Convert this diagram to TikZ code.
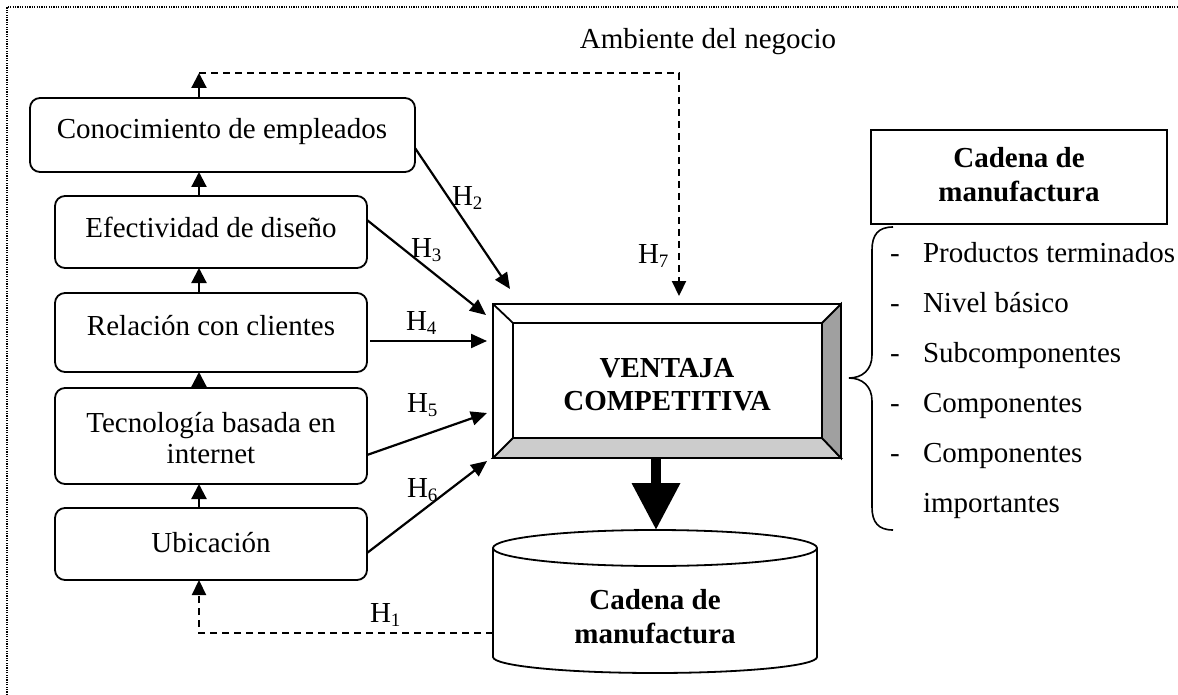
\documentclass[tikz,border=0pt]{standalone}
\usepackage{fontspec}
\setmainfont{Liberation Serif}
\usetikzlibrary{arrows.meta}
\definecolor{bevelB}{RGB}{204,204,204}
\definecolor{bevelR}{RGB}{160,160,160}
\newcommand\hsub[1]{H\raisebox{-4pt}{\fontsize{19}{19}\selectfont #1}}
\begin{document}
\begin{tikzpicture}[x=1pt,y=-1pt,
  every node/.style={inner sep=0pt, outer sep=0pt},
  txt/.style={font=\fontsize{29}{34}\selectfont, anchor=base},
  btxt/.style={font=\fontsize{29}{34}\selectfont\bfseries, anchor=base},
  htxt/.style={font=\fontsize{29}{34}\selectfont, anchor=base west},
  ltxt/.style={font=\fontsize{29}{34}\selectfont, anchor=base west},
  lbox/.style={draw, line width=1.8pt, rounded corners=10pt, fill=white},
  arr/.style={line width=2.2pt, -{Triangle[length=16pt,width=14pt]}},
  uparr/.style={line width=2.2pt, -{Triangle[length=15pt,width=15pt]}},
  dasharr/.style={line width=2.2pt, dash pattern=on 7pt off 5pt, -{Triangle[length=15pt,width=14pt]}},
  thin/.style={line width=1.8pt}
]
\useasboundingbox (0,0) rectangle (1178,695);
\fill[white] (0,0) rectangle (1178,695);
% dotted frame
\draw[line width=1.5pt, dash pattern=on 1.2pt off 1.2pt] (7,695) -- (7,7) -- (1178,7);

% title
\node[txt] (amb) at (708,49) {Ambiente del negocio};

% left boxes
\node[lbox, minimum width=385pt, minimum height=74pt] (k) at (222.5,135) {};
\node[txt] (kt) at (222,139) {Conocimiento de empleados};
\node[lbox, minimum width=312pt, minimum height=72pt] (e) at (211,232) {};
\node[txt] (et) at (211,237) {Efectividad de diseño};
\node[lbox, minimum width=312pt, minimum height=79pt] (r) at (211,332.5) {};
\node[txt] (rt) at (211,335) {Relación con clientes};
\node[lbox, minimum width=312pt, minimum height=96pt] (t) at (211,436) {};
\node[txt] (tt1) at (211,432) {Tecnología basada en};
\node[txt] (tt2) at (211,463) {internet};
\node[lbox, minimum width=312pt, minimum height=72pt] (u) at (211,544) {};
\node[txt] (ut) at (211,552) {Ubicación};

% helper coordinates
\coordinate (ax) at (199,0);
\coordinate (tl) at (199,73);
\coordinate (tr) at (679,73);
\coordinate (h7tip) at (679,296);
\coordinate (bl) at (199,633);
\coordinate (cylw) at (493,548);
\coordinate (ctop) at (656,530);
\coordinate (t2) at (510,289);
\coordinate (t3) at (486,315);
\coordinate (t4) at (487,341);
\coordinate (t5) at (487,413);
\coordinate (t6) at (487,461);

% stacked up arrows
\draw[uparr] (e.north -| ax) -- (k.south -| ax);
\draw[uparr] (r.north -| ax) -- (e.south -| ax);
\draw[uparr] (t.north -| ax) -- (r.south -| ax);
\draw[uparr] (u.north -| ax) -- (t.south -| ax);
\draw[uparr] (k.north -| ax) -- (tl);

% H7 dashed
\draw[dasharr] (tl) -- (tr) -- (h7tip);
\node[htxt] (h7) at (638,263) {\hsub{7}};

% bevel box
\node[minimum width=348pt, minimum height=154pt] (v) at (667,381) {};
\node[minimum width=309pt, minimum height=115pt] (vi) at (667.5,380.5) {};
\filldraw[fill=bevelB, thin, line join=miter] (v.south west) -- (v.south east) -- (vi.south east) -- (vi.south west) -- cycle;
\filldraw[fill=bevelR, thin, line join=miter] (v.south east) -- (v.north east) -- (vi.north east) -- (vi.south east) -- cycle;
\draw[thin] (v.north west) rectangle (v.south east);
\draw[thin] (vi.north west) rectangle (vi.south east);
\draw[thin] (v.north west) -- (vi.north west);
\node[btxt] (vt1) at (667,377) {VENTAJA};
\node[btxt] (vt2) at (667,410) {COMPETITIVA};

% H arrows
\draw[arr] ([yshift=-13pt]k.east) -- (t2);
\draw[arr] ([yshift=12pt]e.east) -- (t3);
\draw[arr] ([xshift=3pt,yshift=-8.5pt]r.east) -- (t4);
\draw[arr] ([yshift=-19pt]t.east) -- (t5);
\draw[arr] ([yshift=-9pt]u.east) -- (t6);
\node[htxt] (h2) at (452,206) {\hsub{2}};
\node[htxt] (h3) at (411,258) {\hsub{3}};
\node[htxt] (h4) at (406,330) {\hsub{4}};
\node[htxt] (h5) at (407,412) {\hsub{5}};
\node[htxt] (h6) at (407,497) {\hsub{6}};

% cylinder
\filldraw[fill=white, thin] (493,548) -- (493,657) arc[start angle=180, end angle=0, x radius=162, y radius=16] -- (817,548);
\filldraw[fill=white, thin] (655,548) ellipse[x radius=162, y radius=18];
\node[btxt] (ct1) at (655,609) {Cadena de};
\node[btxt] (ct2) at (655,643) {manufactura};

% thick arrow
\draw[line width=10pt, -{Triangle[length=47pt,width=46pt]}] (v.south -| ctop) -- (ctop);

% H1 dashed
\draw[dasharr] (bl -| cylw) -- (bl) -- (u.south -| ax);
\node[htxt] (h1) at (370,622) {\hsub{1}};

% right box
\node[draw, thin, fill=white, minimum width=296pt, minimum height=94pt] (cm) at (1019,177) {};
\node[btxt] (cm1) at (1019,168) {Cadena de};
\node[btxt] (cm2) at (1019,202) {manufactura};

% brace
\draw[line width=1.6pt] (893,227) .. controls (878,227) and (872,235) .. (872,250) -- (872,355) .. controls (872,370) and (862,378) .. (849,378) .. controls (862,378) and (872,386) .. (872,401) -- (872,507) .. controls (872,522) and (878,530) .. (893,530);

% list
\node[txt] (d1) at (895,262) {-};
\node[ltxt] (l1) at (923,262) {Productos terminados};
\node[txt] (d2) at (895,312) {-};
\node[ltxt] (l2) at (923,312) {Nivel básico};
\node[txt] (d3) at (895,362) {-};
\node[ltxt] (l3) at (923,362) {Subcomponentes};
\node[txt] (d4) at (895,412) {-};
\node[ltxt] (l4) at (923,412) {Componentes};
\node[txt] (d5) at (895,462) {-};
\node[ltxt] (l5) at (923,462) {Componentes};
\node[ltxt] (l6) at (923,512) {importantes};
\end{tikzpicture}
\end{document}
